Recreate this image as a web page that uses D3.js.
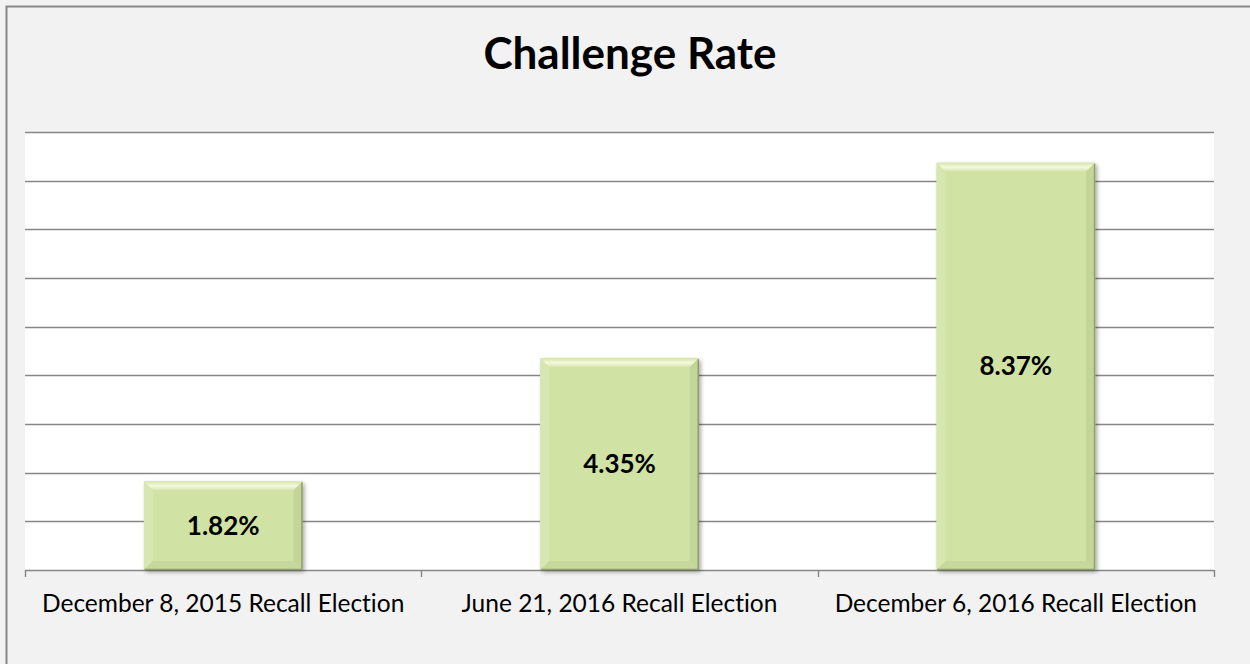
<!DOCTYPE html>
<html>
<head>
<meta charset="utf-8">
<script src="https://cdn.jsdelivr.net/npm/d3@7"></script>
<style>
  html, body { margin: 0; padding: 0; background: #f2f2f2; }
  svg { display: block; }
  text { font-variant-ligatures: none; font-feature-settings: "liga" 0, "clig" 0; }
</style>
</head>
<body>
<svg id="chart" width="1250" height="664"></svg>
<script>
const categories = ["December 8, 2015 Recall Election", "June 21, 2016 Recall Election", "December 6, 2016 Recall Election"];
const values = [1.82, 4.35, 8.37];
const valueLabels = ["1.82%", "4.35%", "8.37%"];
const yTicks = [0, 1, 2, 3, 4, 5, 6, 7, 8, 9];
const title = "Challenge Rate";

const W = 1250, H = 664;
const plot = { left: 25, right: 1214, top: 132, bottom: 570 };
const svg = d3.select("#chart");

const defs = svg.append("defs");
const shadow = defs.append("filter").attr("id", "shadow").attr("x", "-10%").attr("y", "-10%").attr("width", "130%").attr("height", "130%");
shadow.append("feDropShadow").attr("dx", 2).attr("dy", 2).attr("stdDeviation", 2).attr("flood-color", "#000").attr("flood-opacity", 0.35);

const topGrad = defs.append("linearGradient").attr("id", "topBevel").attr("x1", 0).attr("y1", 0).attr("x2", 0).attr("y2", 1);
topGrad.append("stop").attr("offset", "0%").attr("stop-color", "#d6e4ad");
topGrad.append("stop").attr("offset", "50%").attr("stop-color", "#f4f9de");
topGrad.append("stop").attr("offset", "100%").attr("stop-color", "#d6e4ab");

// outer chart background and frame
svg.append("rect").attr("x", 0).attr("y", 0).attr("width", W).attr("height", H).attr("fill", "#f2f2f2");
svg.append("rect").attr("x", 6.5).attr("y", 6.5).attr("width", W + 20).attr("height", H + 20)
  .attr("fill", "#f2f2f2").attr("stroke", "#878787").attr("stroke-width", 2);

// plot area
svg.append("rect").attr("x", plot.left).attr("y", plot.top).attr("width", plot.right - plot.left).attr("height", plot.bottom - plot.top).attr("fill", "#ffffff");

const x = d3.scaleBand().domain(categories).range([plot.left, plot.right]).paddingInner(0.6).paddingOuter(0.3);
const y = d3.scaleLinear().domain([0, 9]).range([plot.bottom, plot.top]);

// gridlines
svg.append("g").selectAll("line").data(yTicks.filter(d => d > 0)).join("line")
  .attr("x1", plot.left).attr("x2", plot.right)
  .attr("y1", d => Math.round(y(d)) + 0.5).attr("y2", d => Math.round(y(d)) + 0.5)
  .attr("stroke", "#878787").attr("stroke-width", 1.4);

// x axis baseline and ticks at category boundaries
const boundaries = d3.range(categories.length + 1).map(i => plot.left + i * (plot.right - plot.left) / categories.length);
const axisG = svg.append("g");
axisG.append("line").attr("x1", plot.left).attr("x2", plot.right)
  .attr("y1", y(0) + 0.5).attr("y2", y(0) + 0.5).attr("stroke", "#878787").attr("stroke-width", 1.4);
axisG.selectAll("line.tick").data(boundaries).join("line").attr("class", "tick")
  .attr("x1", d => Math.round(d) + 0.5).attr("x2", d => Math.round(d) + 0.5)
  .attr("y1", y(0)).attr("y2", y(0) + 7).attr("stroke", "#878787").attr("stroke-width", 1.4);

// bars with bevel
const bev = 9;
const bars = svg.append("g").selectAll("g").data(values).join("g");
bars.each(function(v, i) {
  const g = d3.select(this);
  const x0 = x(categories[i]), w = x.bandwidth();
  const y0 = y(v), y1 = y(0);
  g.append("rect").attr("x", x0).attr("y", y0).attr("width", w).attr("height", y1 - y0)
    .attr("fill", "#d1e2a5").attr("filter", "url(#shadow)");
  g.append("path").attr("d", `M${x0},${y0} L${x0 + w},${y0} L${x0 + w - bev},${y0 + bev} L${x0 + bev},${y0 + bev} Z`).attr("fill", "url(#topBevel)");
  g.append("path").attr("d", `M${x0},${y0} L${x0 + bev},${y0 + bev} L${x0 + bev},${y1 - bev} L${x0},${y1} Z`).attr("fill", "#d8e7b2");
  g.append("path").attr("d", `M${x0 + w},${y0} L${x0 + w - bev},${y0 + bev} L${x0 + w - bev},${y1 - bev} L${x0 + w},${y1} Z`).attr("fill", "#c4d598");
  g.append("path").attr("d", `M${x0},${y1} L${x0 + bev},${y1 - bev} L${x0 + w - bev},${y1 - bev} L${x0 + w},${y1} Z`).attr("fill", "#c7d89c");
  g.append("path").attr("d", `M${x0 + w - 0.5},${y0 + 1} L${x0 + w - 0.5},${y1 - 0.5} L${x0 + 0.5},${y1 - 0.5}`)
    .attr("fill", "none").attr("stroke", "#8f9c6c").attr("stroke-width", 1.5);
  g.append("text").attr("x", x0 + w / 2).attr("y", (y0 + y1) / 2 + 9)
    .attr("text-anchor", "middle").attr("font-family", "Lato, 'Open Sans', sans-serif")
    .attr("font-weight", "bold").attr("font-size", 26).attr("fill", "#000").text(valueLabels[i]);
});

// category labels
svg.append("g").selectAll("text").data(categories).join("text")
  .attr("x", d => x(d) + x.bandwidth() / 2).attr("y", 612)
  .attr("text-anchor", "middle").attr("font-family", "Lato, 'Open Sans', sans-serif")
  .attr("font-size", 24.5).attr("fill", "#000").text(d => d);

// title
svg.append("text").attr("x", 630).attr("y", 69).attr("text-anchor", "middle")
  .attr("font-family", "Lato, 'Open Sans', sans-serif").attr("font-weight", "bold")
  .attr("font-size", 44).attr("fill", "#000").text(title);
</script>
</body>
</html>
